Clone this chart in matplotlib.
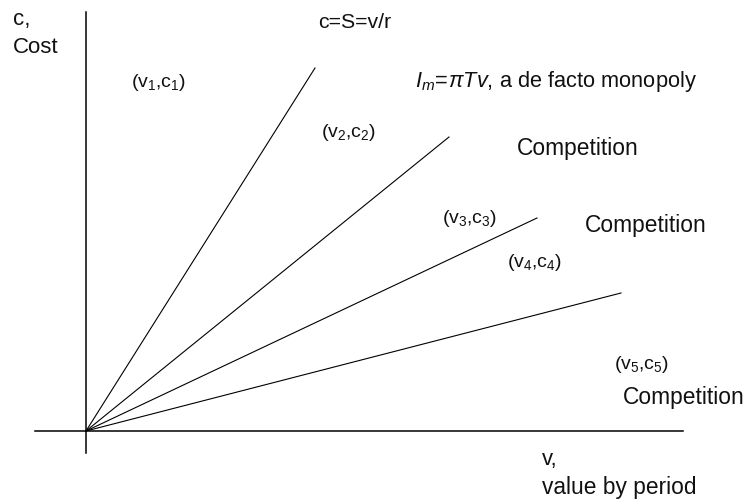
import matplotlib.pyplot as plt

plt.rcParams['font.family'] = ['Liberation Sans', 'DejaVu Sans']
plt.rcParams['mathtext.fontset'] = 'custom'
plt.rcParams['mathtext.rm'] = 'Liberation Sans'
plt.rcParams['mathtext.it'] = 'Liberation Sans:italic'

# rays from the origin: end points (value v, cost c)
ray_v = [229, 363, 451, 535]
ray_c = [363, 294, 213, 138]

# point labels
point_labels = [r'(v$_1$,c$_1$)', r'(v$_2$,c$_2$)', r'(v$_3$,c$_3$)',
                r'(v$_4$,c$_4$)', r'(v$_5$,c$_5$)']
point_xy = [(45, 344), (235, 294), (356, 208), (421, 164), (528, 62)]

fig = plt.figure(figsize=(7.46, 5.03), dpi=100)
ax = fig.add_axes([0, 0, 1, 1])
ax.set_xlim(-86, 660)
ax.set_ylim(-72, 431)
ax.axis('off')

# axes
ax.plot([0, 0], [-22, 419], color='black', lw=1.1)
ax.plot([-51, 597], [0, 0], color='black', lw=1.1)

for v, c in zip(ray_v, ray_c):
    ax.plot([0, v], [0, c], color='black', lw=0.8)

for lab, (x, y) in zip(point_labels, point_xy):
    ax.text(x, y, lab, fontsize=14, va='baseline', ha='left', color='#111111')

fs = 16
ax.text(-73, 406, 'c,', fontsize=fs, va='baseline', color='#111111')
ax.text(-73, 378, 'Cost', fontsize=fs, va='baseline', color='#111111')
ax.text(232, 403, 'c=S=v/r', fontsize=15.3, va='baseline', color='#111111')
ax.text(329, 344, r'$I_{m}\!=\!\pi Tv$, a de facto monopoly', fontsize=15.7,
        va='baseline', color='#111111')
ax.text(431, 276, 'Competition', fontsize=16.4, va='baseline', color='#111111')
ax.text(499, 199, 'Competition', fontsize=16.4, va='baseline', color='#111111')
ax.text(537, 27, 'Competition', fontsize=16.4, va='baseline', color='#111111')
ax.text(456, -34, 'v,', fontsize=fs, va='baseline', color='#111111')
ax.text(456, -63, 'value by period', fontsize=16.4, va='baseline', color='#111111')

plt.savefig('out.png', dpi=100)
